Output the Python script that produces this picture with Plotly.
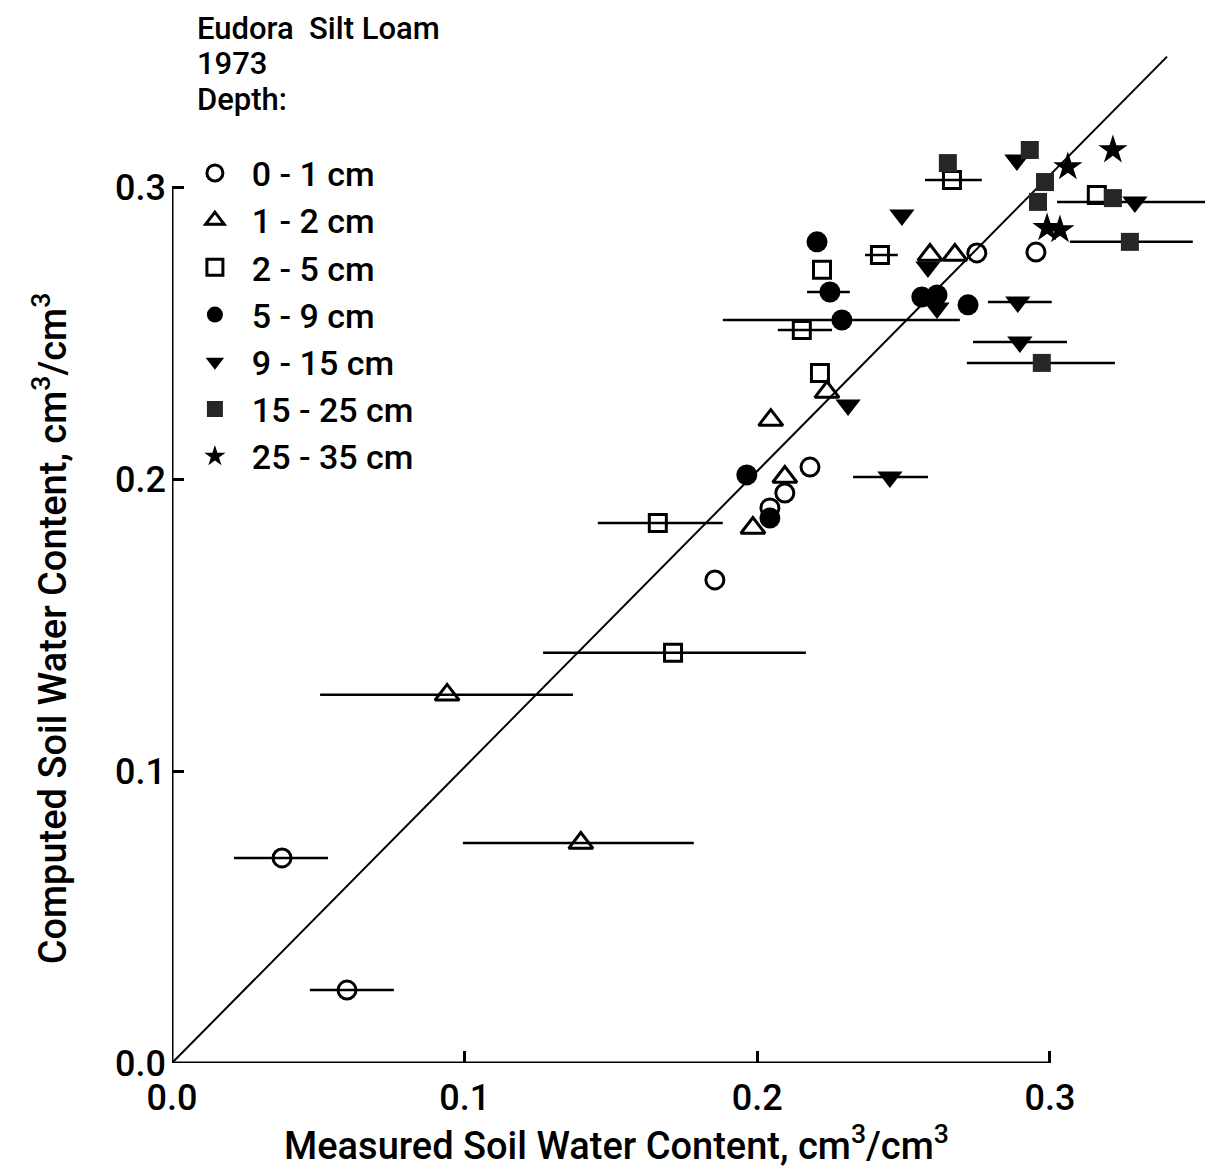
import plotly.graph_objects as go

# ---- data (measured x, computed y, optional horizontal bar ends) ----
d01_x = [0.0376, 0.0598, 0.1855, 0.218, 0.2094, 0.2043, 0.275, 0.2952]
d01_y = [0.0703, 0.0250, 0.1656, 0.2043, 0.1954, 0.1903, 0.2777, 0.278]
d01_lo = [0.0212, 0.0471, None, None, None, None, None, None]
d01_hi = [0.0533, 0.0758, None, None, None, None, None, None]

d12_x = [0.094, 0.1397, 0.2046, 0.2094, 0.1985, 0.2238, 0.259, 0.2675]
d12_y = [0.1262, 0.0754, 0.2204, 0.2009, 0.1834, 0.230, 0.277, 0.277]
d12_lo = [0.0506, 0.0994, None, None, None, None, None, None]
d12_hi = [0.137, 0.1783, None, None, None, None, None, None]

d25_x = [0.1712, 0.166, 0.2214, 0.2152, 0.2221, 0.2419, 0.2665, 0.316]
d25_y = [0.1406, 0.1851, 0.2365, 0.2513, 0.2719, 0.277, 0.3027, 0.2976]
d25_lo = [0.1268, 0.1455, None, 0.207, None, 0.2368, 0.2573, None]
d25_hi = [0.2166, 0.1882, None, 0.2255, None, 0.248, 0.2767, None]

d59_x = [0.1964, 0.2043, 0.2204, 0.2248, 0.2289, 0.2562, 0.2614, 0.272]
d59_y = [0.2016, 0.1868, 0.2815, 0.2643, 0.2547, 0.2626, 0.2633, 0.2599]
d59_lo = [None, None, None, 0.217, 0.1882, None, None, None]
d59_hi = [None, None, None, 0.2316, 0.2692, None, None, None]

d915_x = [0.2453, 0.231, 0.2494, 0.2583, 0.2614, 0.289, 0.2897, 0.2887, 0.329]
d915_y = [0.2009, 0.2256, 0.2907, 0.2729, 0.2588, 0.2609, 0.2472, 0.3096, 0.2952]
d915_lo = [0.2327, None, None, None, None, 0.2788, 0.2737, None, 0.3024]
d915_hi = [0.2583, None, None, None, None, 0.3006, 0.3058, None, 0.3557]

d1525_x = [0.2651, 0.2931, 0.2983, 0.2959, 0.3215, 0.3273, 0.2972]
d1525_y = [0.3085, 0.313, 0.302, 0.2952, 0.2965, 0.2815, 0.240]
d1525_lo = [None, None, None, None, None, 0.3068, 0.2716]
d1525_hi = [None, None, None, None, None, 0.3488, 0.3222]

d2535_x = [0.3215, 0.3061, 0.299, 0.3034]
d2535_y = [0.313, 0.3072, 0.2863, 0.2856]

line_x = [0.0, 0.34]
line_y = [0.0, 0.345]

tick_vals = [0.0, 0.1, 0.2, 0.3]
tick_text = ["0.0", "0.1", "0.2", "0.3"]

header_lines = ["Eudora  Silt Loam", "1973", "Depth:"]

FONT = "Roboto, Liberation Sans, sans-serif"

# figure sits 8 px in from the page corner (default body margin)
FIG_W, FIG_H = 1205, 1163
ML, MR, MT, MB = 164, 0, 32, 108
PH = FIG_H - MT - MB


def ypaper(screen_y):
    return (FIG_H - MB - (screen_y - 8)) / PH


fig = go.Figure()

fig.add_trace(go.Scatter(x=line_x, y=line_y, mode="lines",
                         line=dict(color="black", width=2), showlegend=False,
                         hoverinfo="skip"))


def err(xs, lo, hi):
    plus = [(h - x) if h is not None else None for x, h in zip(xs, hi)]
    minus = [(x - l) if l is not None else None for x, l in zip(xs, lo)]
    return dict(type="data", symmetric=False, array=plus, arrayminus=minus,
                color="black", thickness=2.5, width=0)


series = [
    ("0 - 1 cm", d01_x, d01_y, d01_lo, d01_hi, "circle-open", 18, "black"),
    ("1 - 2 cm", d12_x, d12_y, d12_lo, d12_hi, "triangle-up-open", 21, "black"),
    ("2 - 5 cm", d25_x, d25_y, d25_lo, d25_hi, "square-open", 17, "black"),
    ("5 - 9 cm", d59_x, d59_y, d59_lo, d59_hi, "circle", 21, "black"),
    ("9 - 15 cm", d915_x, d915_y, d915_lo, d915_hi, "triangle-down", 22, "black"),
    ("15 - 25 cm", d1525_x, d1525_y, d1525_lo, d1525_hi, "square", 18, "#262626"),
    ("25 - 35 cm", d2535_x, d2535_y, None, None, "star", 22, "black"),
]

for name, xs, ys, lo, hi, sym, size, col in series:
    kw = {}
    if lo is not None:
        kw["error_x"] = err(xs, lo, hi)
    fig.add_trace(go.Scatter(
        x=xs, y=ys, mode="markers", name="\u00a0\u00a0" + name,
        marker=dict(symbol=sym, size=size, color=col,
                    line=dict(color="black", width=3 if "open" in sym else 0)),
        **kw))

# axis lines limited to 0..0.3
fig.add_shape(type="line", xref="x", yref="y", x0=0, y0=0, x1=0.3, y1=0,
              line=dict(color="black", width=3))
fig.add_shape(type="line", xref="x", yref="y", x0=0, y0=0, x1=0, y1=0.3,
              line=dict(color="black", width=3))

TF = dict(size=38, family=FONT, color="black", weight=500)

fig.add_annotation(text="Measured Soil Water Content, cm<sup>3</sup>/cm<sup>3</sup>",
                   xref="x", yref="paper", x=0.152, y=ypaper(1143), showarrow=False,
                   xanchor="center", yanchor="middle", font=TF)
fig.add_annotation(text="Computed Soil Water Content, cm<sup>3</sup>/cm<sup>3</sup>",
                   xref="paper", yref="y", x=(50 - 172) / 1041, y=0.149, showarrow=False,
                   textangle=-90, xanchor="center", yanchor="middle", font=TF)

header_y_px = [28, 64, 100]
for txt, ypx in zip(header_lines, header_y_px):
    fig.add_annotation(text=txt, xref="paper", yref="paper",
                       x=(195 - 172) / 1041, y=ypaper(ypx),
                       showarrow=False, xanchor="left", yanchor="middle",
                       font=dict(size=31, family=FONT, color="black", weight=500))

fig.update_xaxes(range=[0, 0.3557], showline=False, showgrid=False, zeroline=False,
                 tickvals=tick_vals, ticktext=tick_text, ticks="inside",
                 ticklen=12, tickwidth=2.5, tickcolor="black", automargin=False,
                 ticklabelstandoff=10,
                 tickfont=dict(size=36, family=FONT, color="black", weight=500))
fig.update_yaxes(range=[0, 0.3507], showline=False, showgrid=False, zeroline=False,
                 tickvals=tick_vals, ticktext=tick_text, ticks="inside",
                 ticklen=12, tickwidth=2.5, tickcolor="black", automargin=False,
                 ticklabelstandoff=5,
                 tickfont=dict(size=36, family=FONT, color="black", weight=500))

fig.update_layout(
    width=FIG_W, height=FIG_H,
    margin=dict(l=ML, r=MR, t=MT, b=MB, autoexpand=False),
    plot_bgcolor="white", paper_bgcolor="white",
    font=dict(family=FONT, color="black"),
    showlegend=True,
    legend=dict(x=0.022, y=0.898, xanchor="left", yanchor="top",
                bgcolor="rgba(0,0,0,0)", borderwidth=0,
                font=dict(size=34, family=FONT, color="black", weight=500),
                tracegroupgap=0, itemsizing="trace"),
)

fig.write_html("out.html")
